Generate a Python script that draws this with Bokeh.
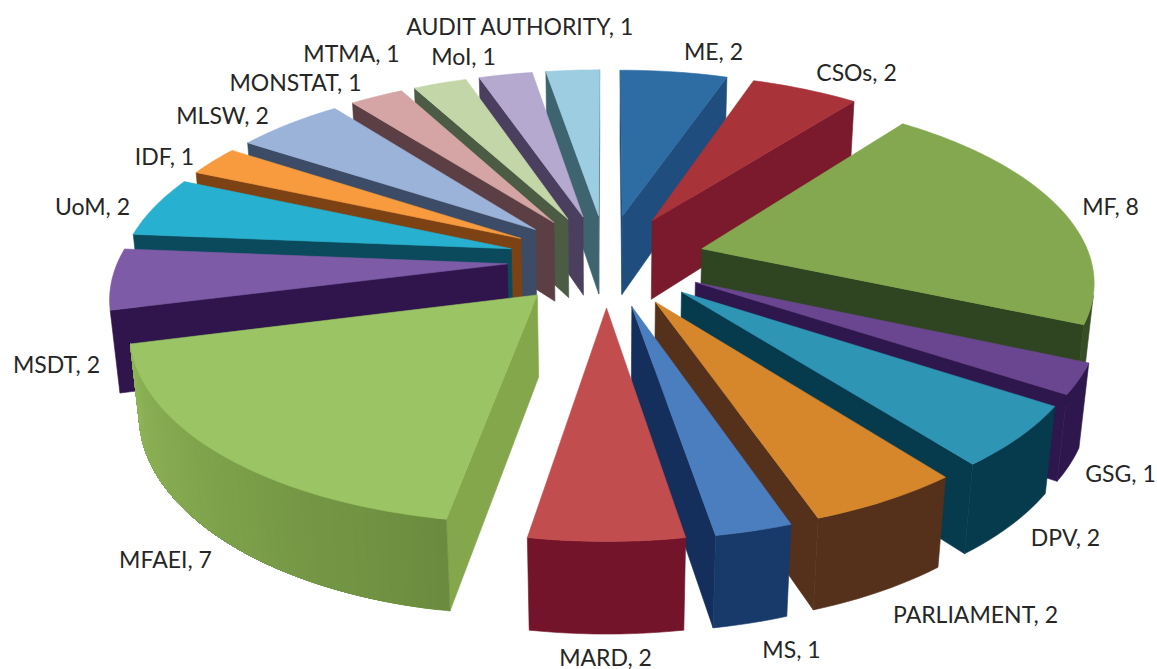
import math
from bokeh.plotting import figure
from bokeh.core.properties import value
from bokeh.embed import file_html
from bokeh.resources import INLINE

categories = ["ME", "CSOs", "MF", "GSG", "DPV", "PARLIAMENT", "MS", "MARD", "MFAEI",
              "MSDT", "UoM", "IDF", "MLSW", "MONSTAT", "MTMA", "MoI", "AUDIT AUTHORITY"]
values = [2, 2, 8, 1, 2, 2, 1, 2, 7, 2, 2, 1, 2, 1, 1, 1, 1]

top_colors = ["#2E6CA4", "#A83339", "#84A84F", "#6B4690", "#2E96B4", "#D6872B", "#4A7EBF",
              "#C24D4E", "#9BC464", "#7D5BA6", "#27B0CF", "#F79B3E", "#9BB3D9", "#D5A5A5",
              "#C3D6A8", "#B6A9CF", "#9DCDE0"]
start_colors = ["#1F4E7E", "#7A1A2C", "#2F4420", "#2E174C", "#063B4E", "#55301B", "#142F5C",
                "#74142A", "#85A74B", "#2F154C", "#0A4A5C", "#7D4214", "#3D4C66", "#5C3F45",
                "#4C5C44", "#4A3F5F", "#3E6470"]
end_colors = ["#1F4E7E", "#7A1A2C", "#2F4420", "#2E174C", "#063B4E", "#55301B", "#142F5C",
              "#74142A", "#85A74B", "#2F154C", "#0A4A5C", "#7D4214", "#3D4C66", "#5C3F45",
              "#4C5C44", "#4A3F5F", "#3E6470"]
# wall colour at the clockwise start and end of each slice
wall_from = ["#1F4E7E", "#7A1A2C", "#364C24", "#2E174C", "#063B4E", "#55301B", "#183A6A",
             "#74142A", "#6B8C3E", "#2F154C", "#0A4A5C", "#7D4214", "#3D4C66", "#5C3F45",
             "#4C5C44", "#4A3F5F", "#3E6470"]
wall_to = ["#1F4E7E", "#7A1A2C", "#364C24", "#2E174C", "#063B4E", "#55301B", "#183A6A",
           "#74142A", "#8FB658", "#2F154C", "#0A4A5C", "#7D4214", "#3D4C66", "#5C3F45",
           "#4C5C44", "#4A3F5F", "#3E6470"]

# layout of the labels (centre of each text, page pixels)
label_x = [713, 856, 1110, 1120, 1065, 975, 791, 605, 165, 56, 92, 164, 222, 295, 351, 463, 520]
label_y = [50, 71, 205, 472, 536, 613, 648, 656, 558, 363, 205, 155, 114, 81, 52, 55, 25]

# projection of the 3-D pie
CX, CY, R = 606.0, 259.5, 389.0
SIN_E = 0.465
COS_E = math.sqrt(1 - SIN_E ** 2)
D = 5.75
EXPLODE = 0.255
DEPTH = 0.238
CAM = (0.0, -D * COS_E, D * SIN_E)


def project(x, y, z):
    w = y * COS_E - z * SIN_E
    s = 1 / (1 + w / D)
    return CX + R * x * s, CY - R * (y * SIN_E + z * COS_E) * s


def faces_camera(n, pt):
    return sum(n[i] * (CAM[i] - pt[i]) for i in range(3)) > 0


def poly(points):
    pairs = [project(*q) for q in points]
    return [a for a, _ in pairs], [b for _, b in pairs]


def mix(c0, c1, t):
    a = [int(c0[k:k + 2], 16) for k in (1, 3, 5)]
    b = [int(c1[k:k + 2], 16) for k in (1, 3, 5)]
    return "#%02X%02X%02X" % tuple(round(u + (w - u) * t) for u, w in zip(a, b))


xs, ys, fills = [], [], []
total = sum(values)
cum = 0
slices = []
for i, v in enumerate(values):
    a0 = cum / total * 2 * math.pi
    a1 = (cum + v) / total * 2 * math.pi
    cum += v
    slices.append((math.cos((a0 + a1) / 2), i, a0, a1))

for _, i, a0, a1 in sorted(slices, reverse=True):
    mid = (a0 + a1) / 2
    ox, oy = EXPLODE * math.sin(mid), EXPLODE * math.cos(mid)
    n = max(2, int((a1 - a0) / math.radians(1.5)))
    angles = [a0 + (a1 - a0) * k / n for k in range(n + 1)]
    rim = [(ox + math.sin(a), oy + math.cos(a)) for a in angles]

    # radial faces
    for a, (rx, ry), nrm, col in (
        (a0, rim[0], (-math.cos(a0), math.sin(a0), 0), start_colors[i]),
        (a1, rim[-1], (math.cos(a1), -math.sin(a1), 0), end_colors[i]),
    ):
        if faces_camera(nrm, (ox, oy, 0)):
            px, py = poly([(ox, oy, 0), (rx, ry, 0), (rx, ry, -DEPTH), (ox, oy, -DEPTH)])
            xs.append(px); ys.append(py); fills.append(col)

    # outer wall: only the part turned to the camera. A shaded wall is laid as
    # overlapping bands, each running on to the end of the arc, so no seams show.
    vis = [k for k, a in enumerate(angles)
           if faces_camera((math.sin(a), math.cos(a), 0), (rim[k][0], rim[k][1], 0))]
    starts = vis[:-1] if wall_from[i] != wall_to[i] else vis[:1]
    if len(vis) > 1:
        for k0 in starts:
            run = [k for k in vis if k >= k0]
            pts = [(rim[k][0], rim[k][1], 0) for k in run]
            pts += [(rim[k][0], rim[k][1], -DEPTH) for k in reversed(run)]
            px, py = poly(pts)
            xs.append(px); ys.append(py); fills.append(mix(wall_from[i], wall_to[i], k0 / n))

    # top
    px, py = poly([(ox, oy, 0)] + [(a, b, 0) for a, b in rim])
    xs.append(px); ys.append(py); fills.append(top_colors[i])

p = figure(width=1157, height=669, x_range=(0, 1157), y_range=(669, 0),
           output_backend="svg", toolbar_location=None, min_border=0)
p.axis.visible = False
p.grid.visible = False
p.outline_line_color = None
p.patches(xs, ys, fill_color=fills, line_color=fills, line_width=0.6)

labels = [f"{c}, {v}" for c, v in zip(categories, values)]
p.text(label_x, label_y, text=labels, text_font=value("Lato"), text_font_size="23px",
       text_color="#262626", text_align="center", text_baseline="middle")

open("out.html", "w").write(file_html(p, INLINE))
